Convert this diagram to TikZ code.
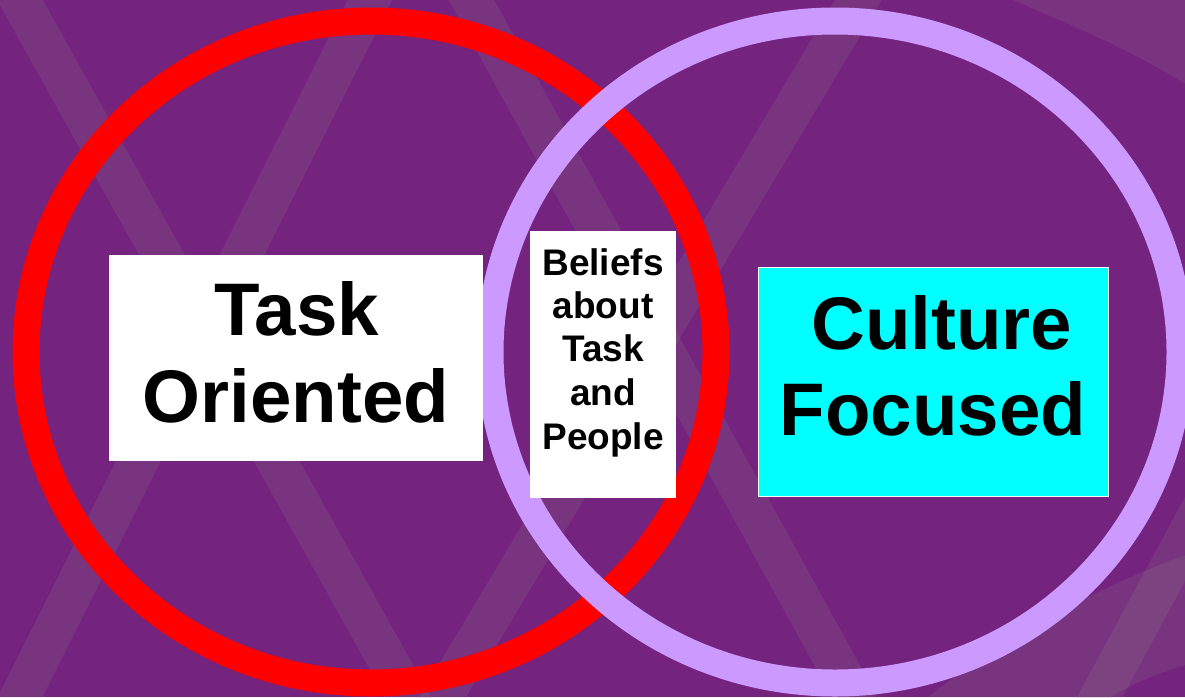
\documentclass[tikz,border=0pt]{standalone}
\usepackage{fontspec}
\setmainfont{Liberation Sans}
\definecolor{bgpurple}{RGB}{116,35,126}
\definecolor{stripecol}{RGB}{150,150,135}
\definecolor{lavender}{RGB}{204,153,255}
\definecolor{boxcyan}{RGB}{0,255,255}
\tikzset{
  band/.style={line width=40pt, draw=stripecol, draw opacity=0.15, line cap=butt},
  patch/.style={fill=stripecol, fill opacity=0.15},
  ring/.style={line width=27pt},
  labelbox/.style={rectangle, inner sep=0pt, outer sep=0pt, fill=white},
  bigtxt/.style={font=\fontsize{74.5}{87}\selectfont\bfseries, anchor=base, inner sep=0pt},
  smalltxt/.style={font=\fontsize{37}{43}\selectfont\bfseries, anchor=base, inner sep=0pt}
}
\begin{document}
\begin{tikzpicture}[x=1pt,y=-1pt]
\useasboundingbox (0,0) rectangle (1185,697);
\fill[bgpurple] (0,0) rectangle (1185,697);
\begin{scope}
  \clip (0,0) rectangle (1185,697);
  % background lattice stripes
  \draw[band] (-19,-70) -- (447,767);
  \draw[band] (405,-70) -- (-15,767);
  \draw[band] (433,-70) -- (893,767);
  \draw[band] (900,-70) -- (401,767);
  \draw[band] (1062,767) -- (1260,400);
  % corner sweeps
  \fill[patch] (1005,-3) .. controls (1075,26) and (1135,52) .. (1192,88) -- (1192,-3) -- cycle;
  \fill[patch] (925,700) .. controls (990,645) and (1100,585) .. (1192,553) -- (1192,663)
     .. controls (1150,675) and (1125,688) .. (1105,700) -- cycle;
\end{scope}
% rings
\draw[ring, red] (371,352) ellipse [x radius=345pt, y radius=331pt];
\draw[ring, lavender] (835,352) ellipse [x radius=345pt, y radius=331pt];
% boxes
\node[labelbox, minimum width=374pt, minimum height=206pt] (taskbox) at (296,358) {};
\node[labelbox, minimum width=146pt, minimum height=267pt] (beliefbox) at (603,364.5) {};
\node[labelbox, fill=boxcyan, draw=white, line width=1pt, minimum width=350pt, minimum height=229pt] (culturebox) at (933,381.5) {};
% texts
\node[bigtxt] (t1) at (297,335.5) {Task};
\node[bigtxt] (t2) at (296,422) {Oriented};
\node[bigtxt] (c1) at (942,349) {Culture};
\node[bigtxt] (c2) at (933,435) {Focused};
\node[smalltxt] (b1) at (603,275) {Beliefs};
\node[smalltxt] (b2) at (603,318) {about};
\node[smalltxt] (b3) at (603,361) {Task};
\node[smalltxt] (b4) at (603,405) {and};
\node[smalltxt] (b5) at (603,449) {People};
\end{tikzpicture}
\end{document}
